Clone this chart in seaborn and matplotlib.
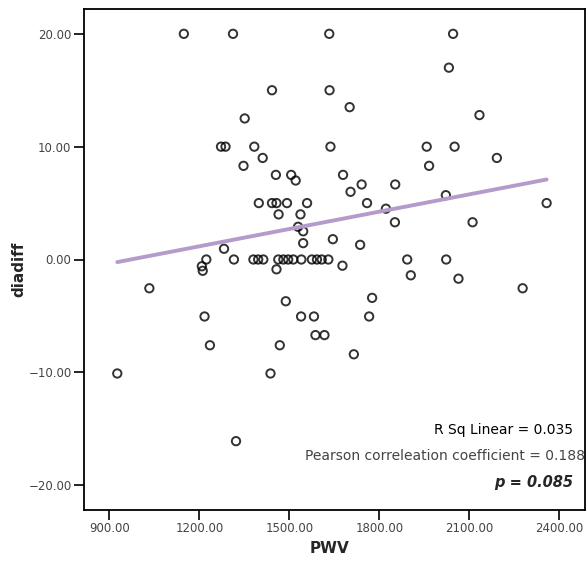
import numpy as np
import pandas as pd
import seaborn as sns
import matplotlib.pyplot as plt

sns.set_style("white")
plt.rcParams['font.family'] = ['DejaVu Sans']

# PWV (x) and diadiff (y)
pwv = [1148, 1312, 1633, 2046, 2032, 1442, 1634, 1701, 2134, 1351,
       1272, 1287, 1383, 1637, 1958, 2051, 1411, 2192, 1347, 1966,
       1455, 1506, 1679, 1521, 1741, 1853, 1704, 2022, 1398, 1442,
       1457, 1492, 1559, 1759, 2358, 1822, 1464, 1537, 1852, 2111,
       1529, 1546, 1546, 1645, 1736, 1282,
       1223, 1315, 1380, 1396, 1413, 1463, 1480, 1496, 1513, 1540,
       1575, 1592, 1608, 1630, 1893, 2023,
       1208, 1211, 1457, 1677, 1905, 2064, 2278, 1033, 1776, 1488,
       1217, 1539, 1582, 1766, 1587, 1617, 1235, 1468, 1715, 926,
       1437, 1322]
diadiff = [20, 20, 20, 20, 17.0, 15.0, 15.0, 13.5, 12.8, 12.5,
           10, 10, 10, 10, 10, 10, 9.0, 9.0, 8.3, 8.3,
           7.5, 7.5, 7.5, 7.0, 6.65, 6.65, 6.0, 5.7, 5.0, 5.0,
           5.0, 5.0, 5.0, 5.0, 5.0, 4.5, 4.0, 4.0, 3.3, 3.3,
           2.9, 2.5, 1.45, 1.8, 1.3, 0.95,
           0, 0, 0, 0, 0, 0, 0, 0, 0, 0,
           0, 0, 0, 0, 0, 0,
           -0.6, -1.0, -0.87, -0.55, -1.4, -1.7, -2.55, -2.55, -3.4, -3.7,
           -5.05, -5.05, -5.05, -5.05, -6.7, -6.7, -7.6, -7.6, -8.4, -10.1,
           -10.1, -16.1]

xticks = [900, 1200, 1500, 1800, 2100, 2400]
yticks = [-20, -10, 0, 10, 20]
stats_lines = ["R Sq Linear = 0.035",
               "Pearson correleation coefficient = 0.188",
               "p = 0.085"]

df = pd.DataFrame({"PWV": pwv, "diadiff": diadiff})

fig = plt.figure(figsize=(5.88, 5.61), dpi=100)
ax = fig.add_axes([84 / 588, 1 - 510 / 561, 501 / 588, 501 / 561])

sns.regplot(data=df, x="PWV", y="diadiff", ax=ax, ci=None,
            scatter_kws=dict(s=36, facecolors="none", edgecolors="black", linewidths=1.4),
            line_kws=dict(color="#B59BCB", linewidth=2.8))

ax.set_xlim(815, 2486)
ax.set_ylim(-22.2, 22.2)
ax.set_xticks(xticks)
ax.set_xticklabels(["%.2f" % v for v in xticks])
ax.set_yticks(yticks)
ax.set_yticklabels(["%.2f" % v if v >= 0 else "\u2212%.2f" % abs(v) for v in yticks])
ax.tick_params(axis="both", direction="out", length=7, width=1.2,
               labelsize=8.5, labelcolor="#444444", color="black",
               bottom=True, left=True, pad=2)

for side in ax.spines.values():
    side.set_color("black")
    side.set_linewidth(1.3)

ax.set_xlabel("PWV", fontsize=11, fontweight="bold")
ax.set_ylabel("diadiff", fontsize=11, fontweight="bold")
ax.xaxis.set_label_coords(0.49, -0.062)
ax.yaxis.set_label_coords(-0.115, 0.48)

ax.text(0.976, 0.159, stats_lines[0], transform=ax.transAxes, ha="right",
        va="center", fontsize=10, color="black")
ax.text(1.0, 0.107, stats_lines[1], transform=ax.transAxes, ha="right",
        va="center", fontsize=10, color="#444444")
ax.text(0.976, 0.055, stats_lines[2], transform=ax.transAxes, ha="right",
        va="center", fontsize=10.5, fontweight="bold", fontstyle="italic")

fig.savefig("out.png", dpi=100)
